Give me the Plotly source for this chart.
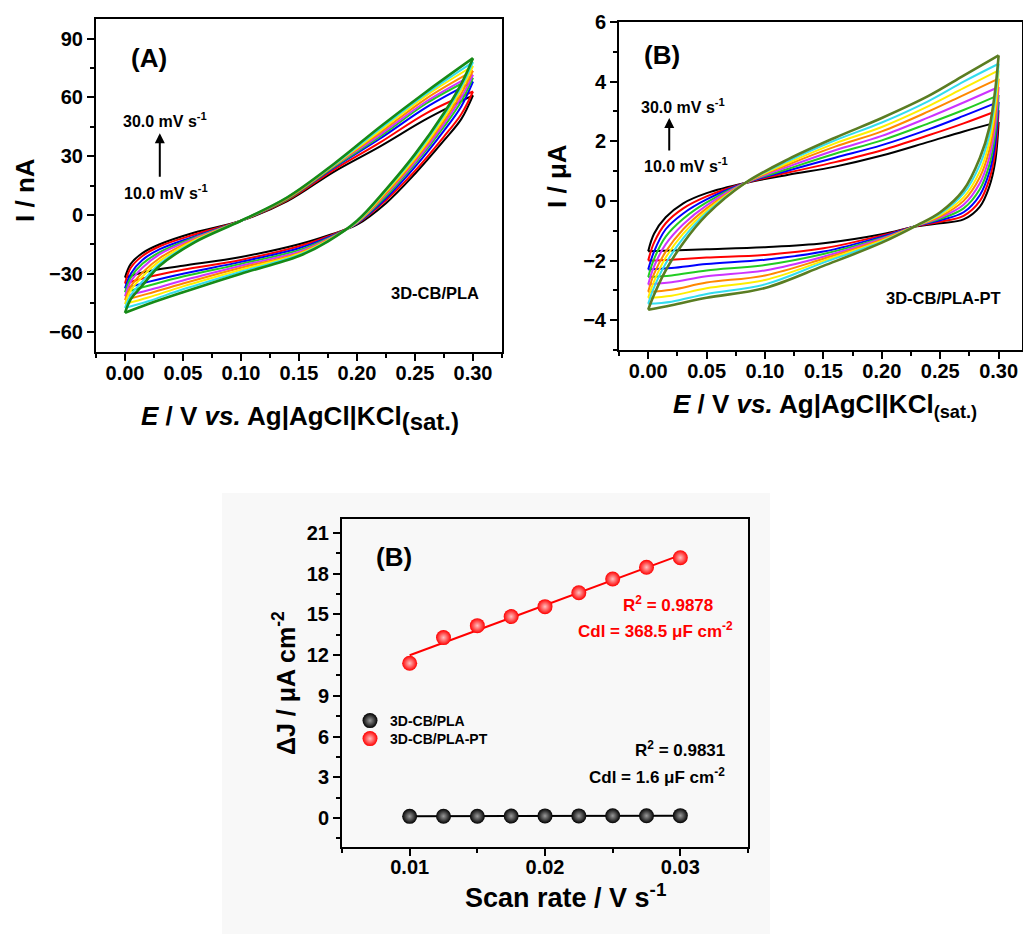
import numpy as np
import plotly.graph_objects as go

# ---------------- data ----------------
scan_rates_mV = ["10.0", "12.5", "15.0", "17.5", "20.0", "22.5", "25.0", "27.5", "30.0"]

# Panel A : 3D-CB/PLA, I / nA  (forward = anodic sweep, reverse = cathodic sweep)
a_fwd_E = [0, 0.005, 0.015, 0.03, 0.06, 0.1, 0.14, 0.18, 0.22, 0.26, 0.3]
a_fwd_I = [
    [-32, -25, -19.5, -15, -9, -3, 7, 22, 35, 49, 61],
    [-35, -27, -21, -16, -10, -3, 7.5, 23, 37, 52, 63],
    [-37.5, -30, -23, -17.5, -11, -3, 8, 24, 39, 55, 68],
    [-39.5, -32, -25, -19, -11.5, -3, 8, 24.5, 40, 57, 70],
    [-41.5, -34, -27, -20, -12, -3, 8.5, 25, 41, 58, 71.5],
    [-43.5, -36.5, -29.5, -22, -12.5, -3, 8.5, 25, 42, 59.5, 73.5],
    [-45.5, -38.5, -31.5, -23.5, -13, -3, 9, 25.5, 43, 61, 76],
    [-47.5, -41, -34, -25, -13.5, -3, 9, 25.5, 44, 62, 78],
    [-50, -43, -36, -26, -14, -3, 9, 26, 45, 63, 80],
]
a_rev_E = [0.3, 0.29, 0.275, 0.25, 0.225, 0.2, 0.175, 0.15, 0.1, 0.05, 0.02, 0]
a_rev_I = [
    [61, 49, 38, 21, 6, -5, -10.5, -15, -21.5, -26, -28.8, -32],
    [63, 51.5, 40, 22.5, 7.5, -4.5, -11, -16, -23, -28, -31.7, -35],
    [68, 55.5, 43, 24.5, 8.5, -4.3, -11.5, -17, -24, -30, -34.2, -37.5],
    [70, 58, 45, 26, 9.5, -4.1, -12, -18, -25, -31.5, -36.2, -39.5],
    [71.5, 60, 46.5, 27, 10.5, -4, -12.4, -18.8, -26, -33.5, -38.5, -41.5],
    [73.5, 62, 48, 28, 11, -3.8, -12.7, -19.5, -27, -35, -40.2, -43.5],
    [76, 64, 49.5, 29, 12, -3.6, -13, -20, -28, -36.5, -42.2, -45.5],
    [78, 65.5, 51, 30, 12.5, -3.4, -13.3, -20.5, -29, -38, -44.1, -47.5],
    [80, 67, 52, 31, 13, -3, -13.5, -21, -30, -39.5, -45.5, -50],
]

# Panel B : 3D-CB/PLA-PT, I / uA
b_fwd_E = [0, 0.005, 0.015, 0.03, 0.05, 0.083, 0.12, 0.16, 0.2, 0.24, 0.27, 0.3]
b_fwd_I = [
    [-1.69, -1.1, -0.55, -0.08, 0.26, 0.6, 0.88, 1.15, 1.52, 1.98, 2.33, 2.65],
    [-2.0, -1.4, -0.75, -0.25, 0.15, 0.6, 0.95, 1.3, 1.7, 2.2, 2.6, 3.04],
    [-2.3, -1.7, -0.95, -0.42, 0.05, 0.6, 1.02, 1.45, 1.87, 2.4, 2.85, 3.32],
    [-2.55, -1.95, -1.2, -0.6, -0.05, 0.6, 1.08, 1.58, 2.03, 2.6, 3.05, 3.55],
    [-2.8, -2.2, -1.45, -0.78, -0.15, 0.6, 1.15, 1.7, 2.18, 2.8, 3.3, 3.82],
    [-3.05, -2.45, -1.7, -0.95, -0.25, 0.6, 1.22, 1.82, 2.33, 3.0, 3.55, 4.1],
    [-3.25, -2.7, -1.9, -1.1, -0.33, 0.6, 1.28, 1.93, 2.48, 3.18, 3.78, 4.38],
    [-3.45, -2.9, -2.1, -1.25, -0.4, 0.6, 1.34, 2.03, 2.63, 3.35, 4.0, 4.6],
    [-3.65, -3.15, -2.33, -1.41, -0.47, 0.6, 1.4, 2.12, 2.78, 3.52, 4.2, 4.88],
]
b_rev_E = [0.3, 0.297, 0.292, 0.284, 0.27, 0.25, 0.23, 0.2, 0.15, 0.1, 0.05, 0.02, 0]
b_rev_I = [
    [2.65, 1.3, 0.48, -0.19, -0.62, -0.75, -0.85, -1.12, -1.42, -1.55, -1.62, -1.66, -1.69],
    [3.04, 1.6, 0.72, 0.0, -0.5, -0.7, -0.84, -1.16, -1.59, -1.81, -1.9, -1.97, -2.0],
    [3.32, 1.9, 0.96, 0.2, -0.38, -0.65, -0.83, -1.2, -1.7, -1.97, -2.12, -2.25, -2.3],
    [3.55, 2.2, 1.2, 0.4, -0.25, -0.6, -0.83, -1.24, -1.78, -2.15, -2.33, -2.5, -2.55],
    [3.82, 2.5, 1.45, 0.6, -0.13, -0.56, -0.83, -1.27, -1.87, -2.33, -2.53, -2.73, -2.8],
    [4.1, 2.8, 1.7, 0.8, 0.0, -0.52, -0.82, -1.3, -1.94, -2.5, -2.74, -2.98, -3.05],
    [4.38, 3.1, 1.95, 1.0, 0.12, -0.47, -0.82, -1.33, -2.01, -2.65, -2.93, -3.18, -3.25],
    [4.6, 3.4, 2.2, 1.22, 0.25, -0.43, -0.82, -1.37, -2.07, -2.8, -3.12, -3.38, -3.45],
    [4.88, 3.7, 2.45, 1.45, 0.37, -0.38, -0.82, -1.4, -2.18, -2.92, -3.25, -3.5, -3.65],
]

# Panel C : double-layer capacitance plot
scan_rate = [0.01, 0.0125, 0.015, 0.0175, 0.02, 0.0225, 0.025, 0.0275, 0.03]
dj_pla = [0.12, 0.13, 0.13, 0.14, 0.15, 0.15, 0.16, 0.16, 0.17]
dj_pla_pt = [11.4, 13.29, 14.17, 14.84, 15.57, 16.6, 17.61, 18.47, 19.18]

colors_a = ["#000000", "#ff0000", "#0000ff", "#22cc22", "#cc33ff",
            "#ff8800", "#ffee00", "#33ddee", "#168a16"]
colors_b = ["#000000", "#ff0000", "#0000ff", "#22cc22", "#cc33ff",
            "#ff8800", "#ffee00", "#33ddee", "#5a7d22"]

# ---------------- figure ----------------
W, H = 1023, 934
FONT = "Liberation Sans, Arial, sans-serif"


def px(x):
    return x / W


def py(y):
    return 1 - y / H


fig = go.Figure()

for i in range(9):
    lw = 2.6 if i == 8 else 2
    for E, I in ((a_fwd_E, a_fwd_I[i]), (a_rev_E, a_rev_I[i])):
        fig.add_trace(go.Scatter(x=E, y=I, mode="lines", xaxis="x", yaxis="y",
                                 line=dict(color=colors_a[i], width=lw, shape="spline", smoothing=1),
                                 showlegend=False, hoverinfo="skip"))
    for E, I in ((b_fwd_E, b_fwd_I[i]), (b_rev_E, b_rev_I[i])):
        fig.add_trace(go.Scatter(x=E, y=I, mode="lines", xaxis="x2", yaxis="y2",
                                 line=dict(color=colors_b[i], width=lw, shape="spline", smoothing=1),
                                 showlegend=False, hoverinfo="skip"))

# linear fits
sr = np.array(scan_rate)
for vals, col in ((dj_pla, "#000000"), (dj_pla_pt, "#ff0000")):
    k, b = np.polyfit(sr, np.array(vals), 1)
    xx = np.array([sr.min(), sr.max()])
    fig.add_trace(go.Scatter(x=xx, y=k * xx + b, mode="lines", xaxis="x3", yaxis="y3",
                             line=dict(color=col, width=2), showlegend=False, hoverinfo="skip"))

fig.add_trace(go.Scatter(x=scan_rate, y=dj_pla, mode="markers", xaxis="x3", yaxis="y3",
                         name="3D-CB/PLA", legend="legend",
                         marker=dict(size=15, color="#000000",
                                     gradient=dict(type="radial", color="#9a9a9a"))))
fig.add_trace(go.Scatter(x=scan_rate, y=dj_pla_pt, mode="markers", xaxis="x3", yaxis="y3",
                         name="3D-CB/PLA-PT", legend="legend2",
                         marker=dict(size=15, color="#ff0000",
                                     gradient=dict(type="radial", color="#ffc0c0"))))

minor_common = dict(ticklen=4, tickwidth=2, ticks="outside", tickcolor="black")
axis_common = dict(showline=True, linewidth=2, linecolor="black", mirror=True,
                   ticks="outside", ticklen=7, tickwidth=2, tickcolor="black",
                   showgrid=False, zeroline=False, automargin=False,
                   tickfont=dict(family=FONT, size=20, color="black", weight="bold"))
legend_common = dict(xanchor="left", yanchor="middle", bgcolor="rgba(0,0,0,0)",
                     borderwidth=0,
                     font=dict(family=FONT, size=14, color="black", weight="bold"))

fig.update_layout(
    width=W, height=H, autosize=False,
    margin=dict(l=0, r=0, t=0, b=0, pad=0, autoexpand=False),
    paper_bgcolor="white", plot_bgcolor="rgba(0,0,0,0)",
    font=dict(family=FONT, color="black"),
    xaxis=dict(domain=[px(96), px(502)], range=[-0.025, 0.325], anchor="y",
               tick0=0, dtick=0.05, tickformat=".2f", ticklabelstandoff=-5,
               minor=dict(dtick=0.025, **minor_common), **axis_common),
    yaxis=dict(domain=[py(352), py(19)], range=[-70, 100], anchor="x",
               tick0=0, dtick=30,
               minor=dict(dtick=15, **minor_common), **axis_common),
    xaxis2=dict(domain=[px(619), px(1022)], range=[-0.025, 0.32], anchor="y2",
                tick0=0, dtick=0.05, tickformat=".2f", ticklabelstandoff=-5,
                minor=dict(dtick=0.025, **minor_common), **axis_common),
    yaxis2=dict(domain=[py(350), py(22)], range=[-5, 6], anchor="x2",
                tick0=0, dtick=2,
                minor=dict(dtick=1, **minor_common), **axis_common),
    xaxis3=dict(domain=[px(342), px(748)], range=[0.005, 0.035], anchor="y3",
                tick0=0.01, dtick=0.01, tickformat=".2f", ticklabelstandoff=-6,
                minor=dict(dtick=0.005, **minor_common), **axis_common),
    yaxis3=dict(domain=[py(847), py(519)], range=[-2.14, 22.03], anchor="x3",
                tick0=0, dtick=3,
                minor=dict(dtick=1.5, **minor_common), **axis_common),
    legend=dict(x=px(350), y=py(721), **legend_common),
    legend2=dict(x=px(350), y=py(739), **legend_common),
    shapes=[dict(type="rect", xref="paper", yref="paper", layer="below",
                 x0=px(222), x1=px(770), y0=py(934), y1=py(493),
                 fillcolor="#f8f8f8", line=dict(width=0))],
)

ann = []


def txt(x, y, s, size, xr, yr, color="black", **kw):
    ann.append(dict(x=x, y=y, xref=xr, yref=yr, text="<b>" + s + "</b>", showarrow=False,
                    xanchor="center", yanchor="middle",
                    font=dict(family=FONT, size=size, color=color), **kw))


# panel A
txt(0.0206, 80.3, "(A)", 26, "x", "y")
txt(0.0345, 48.3, "30.0 mV s<sup>-1</sup>", 16, "x", "y")
txt(0.035, 11.7, "10.0 mV s<sup>-1</sup>", 16, "x", "y")
txt(0.267, -39.7, "3D-CB/PLA", 16.5, "x", "y")
ann.append(dict(x=0.030, y=41.7, xref="x", yref="y", ax=0, ay=45, showarrow=True,
                arrowhead=2, arrowsize=1, arrowwidth=2, arrowcolor="black", text=""))
# panel B
txt(0.012, 4.88, "(B)", 26, "x2", "y2")
txt(0.030, 3.18, "30.0 mV s<sup>-1</sup>", 16, "x2", "y2")
txt(0.0325, 1.2, "10.0 mV s<sup>-1</sup>", 16, "x2", "y2")
txt(0.2526, -3.24, "3D-CB/PLA-PT", 16.5, "x2", "y2")
ann.append(dict(x=0.018, y=2.78, xref="x2", yref="y2", ax=0, ay=34, showarrow=True,
                arrowhead=2, arrowsize=1, arrowwidth=2, arrowcolor="black", text=""))
# panel C
txt(0.00882, 19.23, "(B)", 26, "x3", "y3")
txt(0.02907, 15.77, "R<sup>2</sup> = 0.9878", 17, "x3", "y3", color="#ff0000")
txt(0.02818, 13.85, "Cdl = 368.5 μF cm<sup>-2</sup>", 17, "x3", "y3", color="#ff0000")
txt(0.02996, 5.08, "R<sup>2</sup> = 0.9831", 17, "x3", "y3")
txt(0.02826, 3.1, "Cdl = 1.6 μF cm<sup>-2</sup>", 17, "x3", "y3")

# axis titles
txt(px(25), py(190), "I / nA", 26, "paper", "paper", textangle=-90)
txt(px(557), py(176), "I / μA", 26, "paper", "paper", textangle=-90)
txt(px(284), py(683), "ΔJ / μA cm<sup>-2</sup>", 25, "paper", "paper", textangle=-90)
txt(px(300), py(418),
    "<i>E</i> / V <i>vs.</i> Ag|AgCl|KCl<sub><span style='font-size:24px'>(sat.)</span></sub>",
    26, "paper", "paper")
txt(px(825), py(406), "<i>E</i> / V <i>vs.</i> Ag|AgCl|KCl<sub>(sat.)</sub>", 26, "paper", "paper")
txt(px(565), py(896), "Scan rate / V s<sup>-1</sup>", 27, "paper", "paper")

fig.update_layout(annotations=ann)
fig.write_html("out.html")
